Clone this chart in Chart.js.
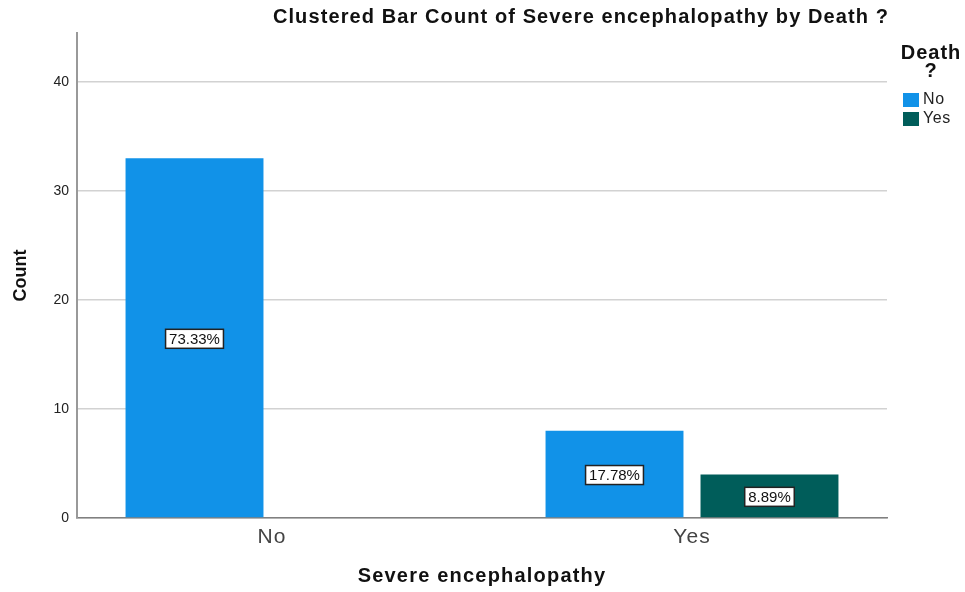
<!DOCTYPE html>
<html>
<head>
<meta charset="utf-8">
<script src="https://cdn.jsdelivr.net/npm/chart.js@4/dist/chart.umd.min.js"></script>
<style>
  html, body { margin: 0; padding: 0; background: #fff; }
  #wrap { width: 965px; height: 592px; }
</style>
</head>
<body>
<div id="wrap"><canvas id="chart" width="965" height="592"></canvas></div>
<script>
const categories = ['No', 'Yes'];
const deathNo = [33, 8];
const deathYes = [null, 4];
const pctNo = ['73.33%', '17.78%'];
const pctYes = [null, '8.89%'];
const yTicks = [0, 10, 20, 30, 40];

const blue = '#1192e8';
const teal = '#005d5a';
const FONT = '"Liberation Sans", Arial, sans-serif';

// wrap a scale draw method so its text gets some letter spacing
function spaced(scale, name, spacing) {
    const orig = scale[name].bind(scale);
    scale[name] = function (arg) {
        const ctx = scale.ctx;
        ctx.save();
        ctx.letterSpacing = spacing;
        orig(arg);
        ctx.restore();
    };
}

// SPSS leaves some extra room at both ends of the category axis
const axisSpacing = {
    id: 'axisSpacing',
    afterLayout(chart) {
        const xs = chart.scales.x;
        const extra = 15;
        xs._startPixel -= extra;
        xs._endPixel += extra;
        xs._length += extra * 2;
        if (!xs._spaced) {
            spaced(xs, 'drawLabels', '1px');
            spaced(xs, 'drawTitle', '1.2px');
            xs._spaced = true;
        }
    }
};

// percent boxes in the middle of each bar
const pctLabels = {
    id: 'pctLabels',
    afterDatasetsDraw(chart) {
        const ctx = chart.ctx;
        const sets = [pctNo, pctYes];
        ctx.save();
        ctx.font = '15px ' + FONT;
        ctx.textAlign = 'center';
        ctx.textBaseline = 'middle';
        sets.forEach((labels, di) => {
            const meta = chart.getDatasetMeta(di);
            meta.data.forEach((bar, i) => {
                if (!labels[i]) return;
                const y = (bar.y + bar.base) / 2 + 1;
                const w = ctx.measureText(labels[i]).width + 7;
                const h = 19;
                ctx.fillStyle = '#fff';
                ctx.fillRect(bar.x - w / 2, y - h / 2, w, h);
                ctx.strokeStyle = '#222';
                ctx.lineWidth = 1.5;
                ctx.strokeRect(bar.x - w / 2, y - h / 2, w, h);
                ctx.fillStyle = '#111';
                ctx.fillText(labels[i], bar.x, y + 1);
            });
        });
        ctx.restore();
    }
};

// title and right-hand legend
const extras = {
    id: 'extras',
    afterDraw(chart) {
        const ctx = chart.ctx;
        ctx.save();
        ctx.fillStyle = '#111';
        ctx.textAlign = 'center';
        ctx.textBaseline = 'middle';
        ctx.letterSpacing = '1.1px';
        ctx.font = 'bold 20px ' + FONT;
        ctx.fillText('Clustered Bar Count of Severe encephalopathy by Death ?', 581, 17);

        ctx.letterSpacing = '1px';
        ctx.fillText('Death', 931, 53);
        ctx.fillText('?', 931, 71);

        ctx.textAlign = 'left';
        ctx.letterSpacing = '0.6px';
        ctx.font = '16px ' + FONT;
        chart.data.datasets.forEach((ds, i) => {
            const y = 93 + i * 19;
            ctx.fillStyle = ds.backgroundColor;
            ctx.fillRect(903, y, 16, 14);
            ctx.fillStyle = '#222';
            ctx.fillText(ds.label, 923, y + 7);
        });
        ctx.restore();
    }
};

new Chart(document.getElementById('chart'), {
    type: 'bar',
    data: {
        labels: categories,
        datasets: [
            { label: 'No', data: deathNo, backgroundColor: blue },
            { label: 'Yes', data: deathYes, backgroundColor: teal }
        ]
    },
    options: {
        responsive: false,
        animation: false,
        events: [],
        layout: { padding: { left: 0, right: 78, top: 33, bottom: 0 } },
        categoryPercentage: 0.738,
        barPercentage: 0.89,
        plugins: {
            legend: { display: false },
            title: { display: false },
            tooltip: { enabled: false }
        },
        scales: {
            x: {
                grid: { display: false, drawTicks: false },
                border: { display: true, color: '#808080', width: 1.5 },
                ticks: {
                    color: '#444',
                    padding: 7,
                    font: { family: FONT, size: 21 }
                },
                title: {
                    display: true,
                    text: 'Severe encephalopathy',
                    color: '#111',
                    padding: { top: 0, bottom: 4 },
                    font: { family: FONT, size: 20, weight: 'bold' }
                },
                afterFit(scale) { scale.height = 74; }
            },
            y: {
                min: 0,
                max: 44.5,
                afterBuildTicks(scale) { scale.ticks = yTicks.map(v => ({ value: v })); },
                grid: {
                    color: '#d2d2d2',
                    lineWidth: 1.5,
                    drawTicks: false
                },
                border: { display: true, color: '#999', width: 2 },
                ticks: {
                    color: '#222',
                    padding: 8,
                    font: { family: FONT, size: 14 }
                },
                title: {
                    display: true,
                    text: 'Count',
                    color: '#111',
                    padding: { top: 10, bottom: 0 },
                    font: { family: FONT, size: 18, weight: 'bold' }
                },
                afterFit(scale) { scale.width = 77; }
            }
        }
    },
    plugins: [axisSpacing, pctLabels, extras]
});
</script>
</body>
</html>
